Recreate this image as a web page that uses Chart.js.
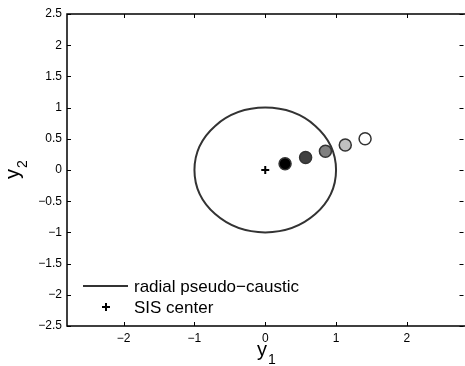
<!DOCTYPE html>
<html>
<head>
<meta charset="utf-8">
<script src="https://cdn.jsdelivr.net/npm/chart.js@4"></script>
<style>
  html, body { margin: 0; padding: 0; background: #fff; overflow: hidden; }
  #wrap { width: 465px; height: 366px; overflow: hidden; position: relative; }
  #lensChart { position: absolute; left: 0; top: 0; }
</style>
</head>
<body>
<div id="wrap"><canvas id="lensChart" width="471" height="366"></canvas></div>
<script>
// data
const xTicks = [-2, -1, 0, 1, 2];
const yTicks = [-2.5, -2, -1.5, -1, -0.5, 0, 0.5, 1, 1.5, 2, 2.5];
const xRange = [-2.8, 2.8];
const yRange = [-2.5, 2.5];

const sourceX = [0.28, 0.57, 0.85, 1.13, 1.41];
const sourceY = [0.1, 0.2, 0.3, 0.4, 0.5];
const sourceFill = ["#000000", "#404040", "#808080", "#c0c0c0", "#ffffff"];

const sisCenter = [0, 0];
const causticRadius = 1;

const legendLabels = ["radial pseudo\u2212caustic", "SIS center"];

const FONT = "'Liberation Sans', Arial, Helvetica, sans-serif";

function minusSign(v) {
    return String(v).replace("-", "\u2212");
}

// caustic circle, inward ticks, box, axis titles and legend
const matlabLook = {
    id: "matlabLook",
    beforeDatasetsDraw(chart) {
        const ctx = chart.ctx;
        const xs = chart.scales.x, ys = chart.scales.y;
        const cx = xs.getPixelForValue(sisCenter[0]);
        const cy = ys.getPixelForValue(sisCenter[1]);
        const rx = xs.getPixelForValue(sisCenter[0] + causticRadius) - cx;
        const ry = cy - ys.getPixelForValue(sisCenter[1] + causticRadius);
        ctx.save();
        ctx.strokeStyle = "#333333";
        ctx.lineWidth = 2;
        ctx.beginPath();
        ctx.ellipse(cx, cy, rx, ry, 0, 0, Math.PI * 2);
        ctx.stroke();
        ctx.restore();
    },
    afterDraw(chart) {
        const ctx = chart.ctx;
        const a = chart.chartArea;
        const xs = chart.scales.x, ys = chart.scales.y;
        ctx.save();
        ctx.strokeStyle = "#000";
        ctx.lineWidth = 1.5;
        // the right side of the box falls just outside the window
        ctx.beginPath();
        ctx.moveTo(a.right + 2, a.top);
        ctx.lineTo(a.left, a.top);
        ctx.lineTo(a.left, a.bottom);
        ctx.lineTo(a.right + 2, a.bottom);
        ctx.stroke();

        ctx.lineWidth = 1;
        const tl = 4;
        ctx.beginPath();
        xTicks.forEach(v => {
            const px = Math.round(xs.getPixelForValue(v)) + 0.5;
            ctx.moveTo(px, a.bottom); ctx.lineTo(px, a.bottom - tl);
            ctx.moveTo(px, a.top); ctx.lineTo(px, a.top + tl);
        });
        yTicks.forEach(v => {
            const py = Math.round(ys.getPixelForValue(v)) + 0.5;
            ctx.moveTo(a.left, py); ctx.lineTo(a.left + tl, py);
            ctx.moveTo(a.right, py); ctx.lineTo(a.right - tl, py);
        });
        ctx.stroke();

        // axis titles
        ctx.fillStyle = "#000";
        ctx.textBaseline = "alphabetic";
        ctx.textAlign = "left";
        ctx.font = "20px " + FONT;
        ctx.fillText("y", 257, 356);
        ctx.font = "14px " + FONT;
        ctx.fillText("1", 268, 364);

        ctx.save();
        ctx.translate(19, 179);
        ctx.rotate(-Math.PI / 2);
        ctx.font = "20px " + FONT;
        ctx.fillText("y", 0, 0);
        ctx.font = "14px " + FONT;
        ctx.fillText("2", 11, 8);
        ctx.restore();

        // legend
        ctx.font = "17px " + FONT;
        ctx.textBaseline = "middle";
        ctx.strokeStyle = "#333333";
        ctx.lineWidth = 2;
        ctx.beginPath();
        ctx.moveTo(83, 286); ctx.lineTo(128, 286);
        ctx.stroke();
        ctx.fillText(legendLabels[0], 134, 287);

        ctx.strokeStyle = "#000";
        ctx.lineWidth = 2;
        ctx.beginPath();
        ctx.moveTo(102, 307); ctx.lineTo(110, 307);
        ctx.moveTo(106, 303); ctx.lineTo(106, 311);
        ctx.stroke();
        ctx.fillText(legendLabels[1], 134, 308);
        ctx.restore();
    }
};

const ctx = document.getElementById("lensChart").getContext("2d");
new Chart(ctx, {
    type: "scatter",
    data: {
        datasets: [
            {
                label: "sources",
                data: sourceX.map((x, i) => ({ x: x, y: sourceY[i] })),
                backgroundColor: sourceFill,
                borderColor: "#333333",
                borderWidth: 1.5,
                pointRadius: 6,
                pointHoverRadius: 6
            },
            {
                label: legendLabels[1],
                data: [{ x: sisCenter[0], y: sisCenter[1] }],
                pointStyle: "cross",
                borderColor: "#000",
                borderWidth: 2,
                pointRadius: 4
            }
        ]
    },
    plugins: [matlabLook],
    options: {
        responsive: false,
        animation: false,
        events: [],
        layout: { padding: { top: 14, right: 0, left: 0, bottom: 0 } },
        plugins: {
            legend: { display: false },
            tooltip: { enabled: false }
        },
        scales: {
            x: {
                type: "linear",
                min: xRange[0],
                max: xRange[1],
                afterBuildTicks: s => { s.ticks = xTicks.map(v => ({ value: v })); },
                afterFit: s => { s.height = 40; },
                grid: { display: false, drawTicks: false },
                border: { display: false },
                ticks: {
                    padding: 5,
                    color: "#000",
                    font: { family: FONT, size: 12 },
                    callback: v => minusSign(v)
                }
            },
            y: {
                type: "linear",
                min: yRange[0],
                max: yRange[1],
                afterBuildTicks: s => { s.ticks = yTicks.map(v => ({ value: v })); },
                afterFit: s => { s.width = 67; },
                grid: { display: false, drawTicks: false },
                border: { display: false },
                ticks: {
                    padding: 5,
                    color: "#000",
                    font: { family: FONT, size: 12 },
                    callback: v => minusSign(v)
                }
            }
        }
    }
});
</script>
</body>
</html>
